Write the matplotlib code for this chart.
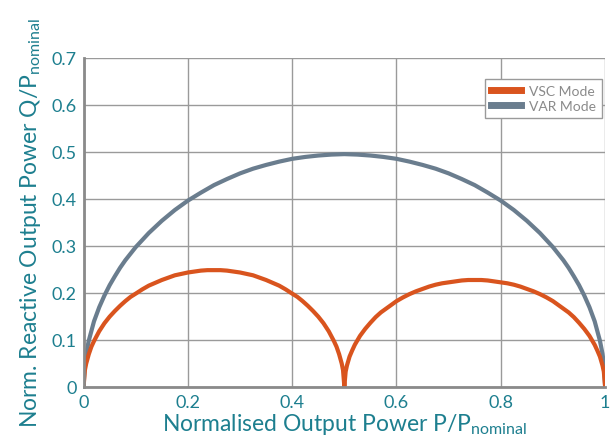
import matplotlib
matplotlib.use('Agg')
import matplotlib.pyplot as plt

# Данные
# VAR Mode
var_p = [0, 0.0025, 0.005, 0.01, 0.02, 0.03, 0.04, 0.05, 0.06, 0.07, 0.08, 0.09, 0.1, 0.125, 0.15, 0.175,
         0.2, 0.225, 0.25, 0.275, 0.3, 0.325, 0.35, 0.375, 0.4, 0.425, 0.45, 0.475, 0.5,
         0.525, 0.55, 0.575, 0.6, 0.625, 0.65, 0.675, 0.7, 0.725, 0.75, 0.775, 0.8, 0.825, 0.85,
         0.875, 0.9, 0.91, 0.92, 0.93, 0.94, 0.95, 0.96, 0.97, 0.98, 0.99, 0.995, 0.9975, 1.0]
var_q = [0, 0.049, 0.070, 0.098, 0.139, 0.169, 0.194, 0.216, 0.235, 0.253, 0.269, 0.283, 0.297, 0.327, 0.353, 0.376,
         0.396, 0.413, 0.429, 0.442, 0.454, 0.464, 0.472, 0.479, 0.485, 0.489, 0.492, 0.494, 0.495,
         0.494, 0.492, 0.489, 0.485, 0.479, 0.472, 0.464, 0.454, 0.442, 0.429, 0.413, 0.396, 0.376, 0.353,
         0.327, 0.297, 0.283, 0.269, 0.253, 0.235, 0.216, 0.194, 0.169, 0.139, 0.098, 0.070, 0.049, 0]

# VSC Mode, левая дуга
vsc_left_p = [0, 0.0025, 0.005, 0.01, 0.015, 0.02, 0.03, 0.04, 0.05, 0.06, 0.07, 0.08, 0.09, 0.1,
              0.1125, 0.125, 0.1375, 0.15, 0.1625, 0.175, 0.1875, 0.2, 0.2125, 0.225, 0.2375, 0.25,
              0.2625, 0.275, 0.2875, 0.3, 0.3125, 0.325, 0.3375, 0.35, 0.3625, 0.375, 0.3875, 0.4,
              0.41, 0.42, 0.43, 0.44, 0.45, 0.46, 0.47, 0.48, 0.485, 0.49, 0.495, 0.4975, 0.5]
vsc_left_q = [0, 0.035, 0.049, 0.069, 0.085, 0.097, 0.118, 0.135, 0.149, 0.161, 0.172, 0.182, 0.191, 0.198,
              0.207, 0.215, 0.221, 0.227, 0.232, 0.237, 0.240, 0.243, 0.245, 0.247, 0.248, 0.248,
              0.248, 0.247, 0.245, 0.243, 0.240, 0.237, 0.232, 0.227, 0.221, 0.215, 0.207, 0.198,
              0.191, 0.182, 0.172, 0.161, 0.149, 0.135, 0.118, 0.097, 0.085, 0.069, 0.049, 0.035, 0]
# VSC Mode, правая дуга
vsc_right_p = [0.5025, 0.505, 0.51, 0.515, 0.52, 0.53, 0.54, 0.55, 0.56, 0.57, 0.58, 0.59, 0.6,
               0.6125, 0.625, 0.6375, 0.65, 0.6625, 0.675, 0.6875, 0.7, 0.7125, 0.725, 0.7375, 0.75,
               0.7625, 0.775, 0.7875, 0.8, 0.8125, 0.825, 0.8375, 0.85, 0.8625, 0.875, 0.8875, 0.9,
               0.91, 0.92, 0.93, 0.94, 0.95, 0.96, 0.97, 0.98, 0.985, 0.99, 0.995, 0.9975, 1.0]
vsc_right_q = [0.032, 0.045, 0.064, 0.077, 0.089, 0.108, 0.123, 0.136, 0.148, 0.158, 0.166, 0.174, 0.182,
               0.190, 0.197, 0.203, 0.208, 0.213, 0.217, 0.220, 0.222, 0.224, 0.226, 0.227, 0.227,
               0.227, 0.226, 0.224, 0.222, 0.220, 0.217, 0.213, 0.208, 0.203, 0.197, 0.190, 0.182,
               0.174, 0.166, 0.158, 0.148, 0.136, 0.123, 0.108, 0.089, 0.077, 0.064, 0.045, 0.032, 0]

x_ticks = [0, 0.2, 0.4, 0.6, 0.8, 1]
x_labels = ['0', '0.2', '0.4', '0.6', '0.8', '1']
y_ticks = [0, 0.1, 0.2, 0.3, 0.4, 0.5, 0.6, 0.7]
y_labels = ['0', '0.1', '0.2', '0.3', '0.4', '0.5', '0.6', '0.7']

teal = '#1d7f8f'
orange = '#d9541e'
slate = '#6a7d8e'

plt.rcParams['font.family'] = 'Lato'
plt.rcParams['mathtext.fontset'] = 'custom'
plt.rcParams['mathtext.rm'] = 'Lato'

fig = plt.figure(figsize=(6.1, 4.39), dpi=100)
ax = fig.add_axes([0.137, 0.117, 0.855, 0.749])

ax.plot(var_p, var_q, color=slate, linewidth=3, label='VAR Mode', zorder=3)
ax.plot(vsc_left_p + vsc_right_p, vsc_left_q + vsc_right_q, color=orange, linewidth=3,
        label='VSC Mode', zorder=4)

ax.set_xlim(0, 1)
ax.set_ylim(0, 0.7)
ax.set_xticks(x_ticks)
ax.set_xticklabels(x_labels)
ax.set_yticks(y_ticks)
ax.set_yticklabels(y_labels)
ax.tick_params(length=0, labelsize=13, labelcolor=teal, pad=5)
ax.grid(True, color='#9a9a9a', linewidth=1)
ax.set_axisbelow(True)

for side in ['top', 'right']:
    ax.spines[side].set_visible(False)
for side in ['left', 'bottom']:
    ax.spines[side].set_color('#8a8a8a')
    ax.spines[side].set_linewidth(2)
    ax.spines[side].set_zorder(5)

ax.set_xlabel(r'Normalised Output Power P/P$_{\mathregular{nominal}}$', fontsize=16.5, color=teal, labelpad=1)
ax.set_ylabel(r'Norm. Reactive Output Power Q/P$_{\mathregular{nominal}}$', fontsize=16.5, color=teal, labelpad=6)

h, l = ax.get_legend_handles_labels()
leg = ax.legend(h[::-1], l[::-1], loc='upper right', bbox_to_anchor=(0.994, 0.935), borderaxespad=0,
                fontsize=10, handlelength=2.2, handletextpad=0.6, labelspacing=0.25, fancybox=False,
                framealpha=1, edgecolor='#9a9a9a', borderpad=0.4)
for line in leg.get_lines():
    line.set_linewidth(5)
for t in leg.get_texts():
    t.set_color('#8a8a8a')
leg.get_frame().set_linewidth(1)

plt.savefig('out.png', dpi=100)
